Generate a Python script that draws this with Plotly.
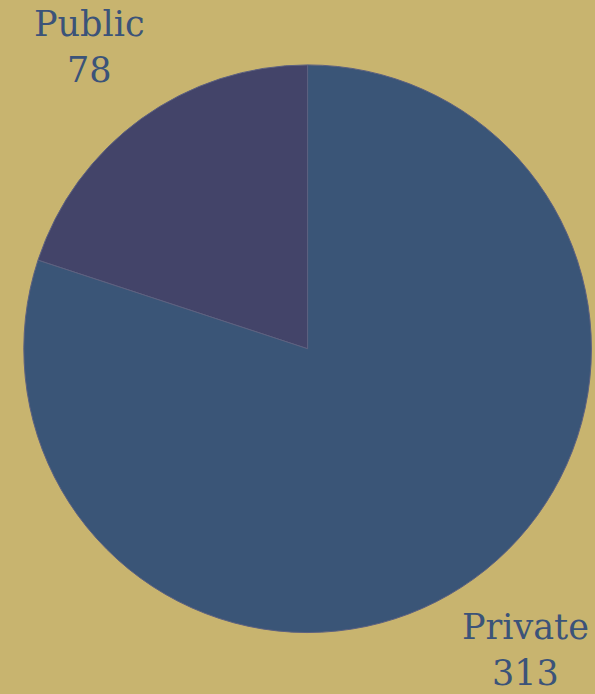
import math
import plotly.graph_objects as go

labels = ["Public", "Private"]
values = [78, 313]
colors = ["#434469", "#3a5577"]

W, H = 595, 694
DOMAIN_X = [0.04, 0.994]
DOMAIN_Y = [0.0, 0.995]
LABEL_DIST_PX = 372  # distance from pie centre to label centre

total = sum(values)
start_angle = -360.0 * values[0] / total  # first slice ends at 12 o'clock

fig = go.Figure(go.Pie(
    labels=labels,
    values=values,
    sort=False,
    direction="clockwise",
    rotation=start_angle,
    marker=dict(colors=colors, line=dict(color="#5d6180", width=1)),
    textinfo="none",
    showlegend=False,
    hoverinfo="label+value",
    domain=dict(x=DOMAIN_X, y=DOMAIN_Y),
))

# outside labels placed along each slice's mid-angle
cx_px = (DOMAIN_X[0] + DOMAIN_X[1]) / 2 * W
cy_px = (1 - (DOMAIN_Y[0] + DOMAIN_Y[1]) / 2) * H
cum = 0.0
for lab, val in zip(labels, values):
    mid = start_angle + 360.0 * (cum + val / 2) / total  # degrees clockwise from 12 o'clock
    cum += val
    a = math.radians(mid)
    px = cx_px + LABEL_DIST_PX * math.sin(a)
    py = cy_px - LABEL_DIST_PX * math.cos(a)
    fig.add_annotation(
        x=px / W, y=1 - py / H, xref="paper", yref="paper",
        text=f"{lab}<br>{val}", showarrow=False,
        xanchor="center", yanchor="middle",
        font=dict(family="DejaVu Serif", size=35, color="#3b5379"),
    )

fig.update_layout(
    width=W, height=H,
    margin=dict(l=0, r=0, t=0, b=0),
    paper_bgcolor="#c8b46f",
    plot_bgcolor="#c8b46f",
)
fig.write_html("out.html")
